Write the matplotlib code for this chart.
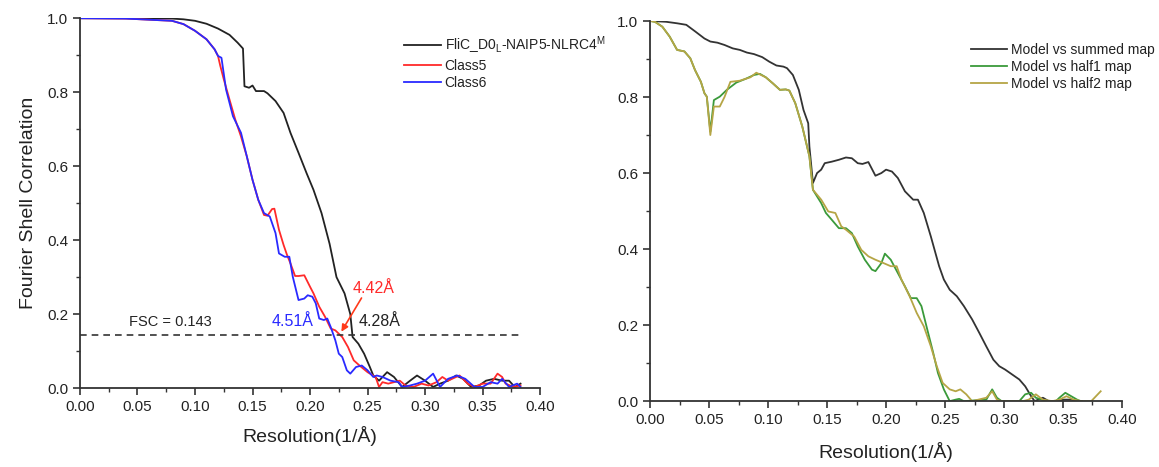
import matplotlib
matplotlib.use("Agg")
import matplotlib.pyplot as plt
from matplotlib.ticker import MultipleLocator

plt.rcParams['font.family'] = ['Liberation Sans', 'DejaVu Sans']

# ---- left panel data: FSC curves ----
fsc_x_black = [0.0, 0.04, 0.08, 0.09, 0.10, 0.11, 0.12, 0.13, 0.137, 0.1417, 0.143, 0.147, 0.15, 0.153,
               0.16, 0.163, 0.17, 0.177, 0.183, 0.19, 0.197, 0.203, 0.21, 0.217, 0.223, 0.23, 0.235,
               0.237, 0.242, 0.247, 0.252, 0.255, 0.26, 0.267, 0.273, 0.28, 0.287, 0.293, 0.30, 0.307,
               0.313, 0.32, 0.327, 0.333, 0.34, 0.347, 0.353, 0.36, 0.367, 0.373, 0.378, 0.383]
fsc_y_black = [1.0, 1.0, 0.999, 0.997, 0.993, 0.985, 0.972, 0.955, 0.934, 0.918, 0.816, 0.812, 0.818, 0.803,
               0.803, 0.797, 0.776, 0.744, 0.69, 0.636, 0.581, 0.536, 0.473, 0.39, 0.30, 0.256, 0.20,
               0.138, 0.12, 0.093, 0.057, 0.034, 0.02, 0.043, 0.03, 0.003, 0.02, 0.034, 0.02, 0.003,
               0.012, 0.02, 0.034, 0.025, 0.003, 0.007, 0.02, 0.025, 0.02, 0.02, 0.003, 0.012]

fsc_x_red = [0.0, 0.04, 0.08, 0.09, 0.10, 0.11, 0.117, 0.12, 0.122, 0.125, 0.13, 0.135, 0.14, 0.145,
             0.15, 0.155, 0.16, 0.163, 0.167, 0.169, 0.173, 0.177, 0.18, 0.183, 0.187, 0.19, 0.195,
             0.20, 0.203, 0.208, 0.213, 0.218, 0.222, 0.225, 0.228, 0.233, 0.238, 0.243, 0.25, 0.257,
             0.26, 0.263, 0.268, 0.273, 0.278, 0.283, 0.29, 0.297, 0.303, 0.31, 0.315, 0.32, 0.327,
             0.33, 0.337, 0.343, 0.35, 0.357, 0.363, 0.367, 0.37, 0.377, 0.383]
fsc_y_red = [1.0, 0.999, 0.993, 0.984, 0.966, 0.943, 0.916, 0.898, 0.871, 0.835, 0.78, 0.726, 0.68, 0.627,
             0.563, 0.509, 0.468, 0.466, 0.484, 0.485, 0.428, 0.387, 0.36, 0.337, 0.303, 0.303, 0.305,
             0.274, 0.256, 0.22, 0.193, 0.161, 0.156, 0.147, 0.138, 0.111, 0.075, 0.061, 0.043, 0.03,
             0.003, 0.016, 0.012, 0.016, 0.02, 0.007, 0.003, 0.012, 0.007, 0.016, 0.03, 0.02, 0.03,
             0.034, 0.012, 0.003, 0.012, 0.012, 0.039, 0.03, 0.012, 0.003, 0.007]

fsc_x_blue = [0.0, 0.04, 0.08, 0.09, 0.10, 0.11, 0.117, 0.12, 0.123, 0.127, 0.133, 0.14, 0.145, 0.15,
              0.155, 0.16, 0.165, 0.17, 0.173, 0.178, 0.182, 0.185, 0.19, 0.195, 0.198, 0.202, 0.205,
              0.208, 0.212, 0.215, 0.218, 0.222, 0.225, 0.228, 0.232, 0.235, 0.24, 0.245, 0.25, 0.255,
              0.258, 0.263, 0.27, 0.277, 0.28, 0.287, 0.293, 0.30, 0.307, 0.313, 0.32, 0.328, 0.335,
              0.343, 0.35, 0.357, 0.363, 0.367, 0.373, 0.38, 0.383]
fsc_y_blue = [1.0, 0.999, 0.993, 0.984, 0.966, 0.943, 0.916, 0.898, 0.893, 0.807, 0.735, 0.69, 0.627, 0.563,
              0.509, 0.473, 0.464, 0.419, 0.364, 0.355, 0.355, 0.301, 0.238, 0.242, 0.251, 0.247, 0.229,
              0.188, 0.184, 0.188, 0.165, 0.129, 0.093, 0.084, 0.048, 0.039, 0.057, 0.061, 0.048, 0.03,
              0.034, 0.03, 0.02, 0.016, 0.003, 0.007, 0.012, 0.02, 0.039, 0.003, 0.025, 0.034, 0.025,
              0.003, 0.003, 0.016, 0.012, 0.025, 0.003, 0.012, 0.003]

left_labels = ['FliC_D0$_\\mathregular{L}$-NAIP5-NLRC4$^\\mathregular{M}$', 'Class5', 'Class6']
fsc_threshold = 0.143

# ---- right panel data: model vs map ----
mm_x_sum = [0.0, 0.0134, 0.0228, 0.0306, 0.0384, 0.046, 0.051, 0.057, 0.063, 0.07, 0.076, 0.082, 0.088,
            0.095, 0.101, 0.107, 0.113, 0.116, 0.121, 0.126, 0.13, 0.134, 0.135, 0.138, 0.1415, 0.145,
            0.148, 0.154, 0.16, 0.166, 0.171, 0.176, 0.18, 0.185, 0.191, 0.196, 0.20, 0.205, 0.21,
            0.216, 0.223, 0.227, 0.232, 0.238, 0.245, 0.249, 0.254, 0.26, 0.266, 0.273, 0.279, 0.285,
            0.291, 0.296, 0.301, 0.307, 0.313, 0.318, 0.323, 0.326, 0.329, 0.333, 0.338, 0.344, 0.351,
            0.357, 0.362, 0.366]
mm_y_sum = [1.0, 0.998, 0.994, 0.99, 0.972, 0.954, 0.946, 0.943, 0.937, 0.928, 0.924, 0.917, 0.913,
            0.905, 0.893, 0.883, 0.88, 0.876, 0.858, 0.819, 0.766, 0.731, 0.67, 0.574, 0.60, 0.609,
            0.626, 0.63, 0.635, 0.641, 0.639, 0.626, 0.624, 0.629, 0.593, 0.60, 0.609, 0.604, 0.587,
            0.552, 0.53, 0.53, 0.495, 0.433, 0.355, 0.32, 0.293, 0.276, 0.25, 0.215, 0.18, 0.144,
            0.109, 0.092, 0.083, 0.07, 0.057, 0.039, 0.013, 0.0, 0.004, 0.009, 0.0, 0.0, 0.004,
            0.004, 0.0, 0.0]

mm_x_h1 = [0.0, 0.004, 0.0103, 0.0165, 0.0228, 0.029, 0.034, 0.038, 0.043, 0.046, 0.048, 0.051, 0.054,
           0.059, 0.065, 0.073, 0.081, 0.088, 0.093, 0.098, 0.104, 0.11, 0.115, 0.118, 0.123, 0.129,
           0.135, 0.138, 0.145, 0.149, 0.154, 0.16, 0.166, 0.171, 0.176, 0.182, 0.188, 0.191, 0.196,
           0.199, 0.204, 0.21, 0.216, 0.221, 0.226, 0.23, 0.235, 0.24, 0.244, 0.249, 0.254, 0.259,
           0.262, 0.266, 0.285, 0.29, 0.294, 0.298, 0.313, 0.318, 0.323, 0.327, 0.332, 0.338, 0.344,
           0.347, 0.352, 0.357, 0.362, 0.365]
mm_y_h1 = [1.0, 0.998, 0.985, 0.959, 0.924, 0.92, 0.902, 0.871, 0.84, 0.81, 0.801, 0.709, 0.792,
           0.801, 0.819, 0.838, 0.848, 0.858, 0.861, 0.852, 0.836, 0.819, 0.82, 0.817, 0.784, 0.722,
           0.644, 0.556, 0.521, 0.495, 0.477, 0.455, 0.455, 0.442, 0.407, 0.372, 0.346, 0.342, 0.363,
           0.388, 0.372, 0.337, 0.302, 0.271, 0.271, 0.25, 0.188, 0.127, 0.074, 0.031, 0.0, 0.004,
           0.006, 0.0, 0.004, 0.031, 0.009, 0.0, 0.0, 0.018, 0.022, 0.009, 0.004, 0.0, 0.0,
           0.009, 0.022, 0.013, 0.004, 0.0]

mm_x_h2 = [0.0, 0.004, 0.0103, 0.0165, 0.0228, 0.029, 0.034, 0.038, 0.043, 0.046, 0.048, 0.051, 0.054,
           0.059, 0.063, 0.068, 0.076, 0.085, 0.09, 0.098, 0.104, 0.11, 0.115, 0.118, 0.123, 0.129,
           0.135, 0.138, 0.145, 0.151, 0.157, 0.162, 0.166, 0.173, 0.179, 0.185, 0.191, 0.198, 0.204,
           0.209, 0.213, 0.22, 0.226, 0.232, 0.238, 0.243, 0.248, 0.254, 0.259, 0.263, 0.268, 0.273,
           0.285, 0.29, 0.294, 0.298, 0.316, 0.321, 0.327, 0.333, 0.341, 0.347, 0.353, 0.359, 0.366,
           0.374, 0.382]
mm_y_h2 = [1.0, 0.998, 0.985, 0.959, 0.924, 0.92, 0.902, 0.871, 0.84, 0.81, 0.801, 0.70, 0.775,
           0.775, 0.80, 0.84, 0.843, 0.852, 0.864, 0.852, 0.836, 0.819, 0.82, 0.817, 0.784, 0.722,
           0.644, 0.556, 0.53, 0.499, 0.495, 0.46, 0.451, 0.433, 0.398, 0.381, 0.372, 0.363, 0.355,
           0.355, 0.32, 0.276, 0.232, 0.197, 0.144, 0.092, 0.048, 0.031, 0.026, 0.031, 0.018, 0.0,
           0.009, 0.026, 0.004, 0.0, 0.0, 0.004, 0.018, 0.004, 0.0, 0.004, 0.013, 0.004, 0.0,
           0.0, 0.026]

right_labels = ['Model vs summed map', 'Model vs half1 map', 'Model vs half2 map']

fig = plt.figure(figsize=(11.59, 4.67), dpi=100)
ax1 = fig.add_axes([0.069, 0.169, 0.397, 0.792])
ax2 = fig.add_axes([0.561, 0.141, 0.407, 0.814])


def style_axis(ax, pad):
    ax.set_xlim(0, 0.40)
    ax.set_ylim(0, 1.0)
    ax.spines['top'].set_visible(False)
    ax.spines['right'].set_visible(False)
    for s in ['left', 'bottom']:
        ax.spines[s].set_linewidth(1.3)
        ax.spines[s].set_color('#333333')
    ax.xaxis.set_major_locator(MultipleLocator(0.05))
    ax.xaxis.set_minor_locator(MultipleLocator(0.025))
    ax.yaxis.set_major_locator(MultipleLocator(0.2))
    ax.yaxis.set_minor_locator(MultipleLocator(0.1))
    ax.xaxis.set_major_formatter(plt.FuncFormatter(lambda v, p: '%.2f' % v))
    ax.yaxis.set_major_formatter(plt.FuncFormatter(lambda v, p: '%.1f' % v))
    ax.tick_params(which='major', direction='out', length=5, width=1.2, labelsize=11, colors='#333333')
    ax.tick_params(which='minor', direction='out', length=3, width=1.0, colors='#333333')
    ax.tick_params(labelcolor='#222222')
    ax.set_xlabel('Resolution(1/Å)', fontsize=14, color='#222222', labelpad=pad)


# left panel
ax1.plot(fsc_x_black, fsc_y_black, color='#222222', lw=1.3, label=left_labels[0])
ax1.plot(fsc_x_red, fsc_y_red, color='#ff2a2a', lw=1.3, label=left_labels[1])
ax1.plot(fsc_x_blue, fsc_y_blue, color='#2a2aff', lw=1.3, label=left_labels[2])
ax1.plot([0, 0.383], [fsc_threshold, fsc_threshold], color='#333333', lw=1.2, ls=(0, (4, 3)))
style_axis(ax1, 9)
ax1.set_ylabel('Fourier Shell Correlation', fontsize=14, color='#222222', labelpad=7)
ax1.text(0.043, 0.18, 'FSC = 0.143', fontsize=10.5, color='#222222', va='center')
ax1.text(0.167, 0.18, '4.51Å', fontsize=11.5, color='#2a2aff', va='center')
ax1.text(0.242, 0.18, '4.28Å', fontsize=11.5, color='#222222', va='center')
ax1.text(0.237, 0.268, '4.42Å', fontsize=11.5, color='#ff2a2a', va='center')
ax1.annotate('', xy=(0.226, 0.146), xytext=(0.246, 0.25),
             arrowprops=dict(arrowstyle='-|>', color='#ff3a1a', lw=1.2, mutation_scale=10))
leg1 = ax1.legend(loc='upper left', bbox_to_anchor=(0.69, 0.975), frameon=False, fontsize=10,
                  handlelength=2.6, handletextpad=0.3, labelspacing=0.2, borderpad=0)
for t in leg1.get_texts():
    t.set_color('#222222')

# right panel
ax2.plot(mm_x_sum, mm_y_sum, color='#333333', lw=1.3, label=right_labels[0])
ax2.plot(mm_x_h1, mm_y_h1, color='#3a9a3a', lw=1.3, label=right_labels[1])
ax2.plot(mm_x_h2, mm_y_h2, color='#b5a545', lw=1.3, label=right_labels[2])
style_axis(ax2, 11)
leg2 = ax2.legend(loc='upper left', bbox_to_anchor=(0.665, 0.96), frameon=False, fontsize=10,
                  handlelength=2.6, handletextpad=0.3, labelspacing=0.2, borderpad=0)
for t in leg2.get_texts():
    t.set_color('#222222')

fig.savefig('out.png', dpi=100)
